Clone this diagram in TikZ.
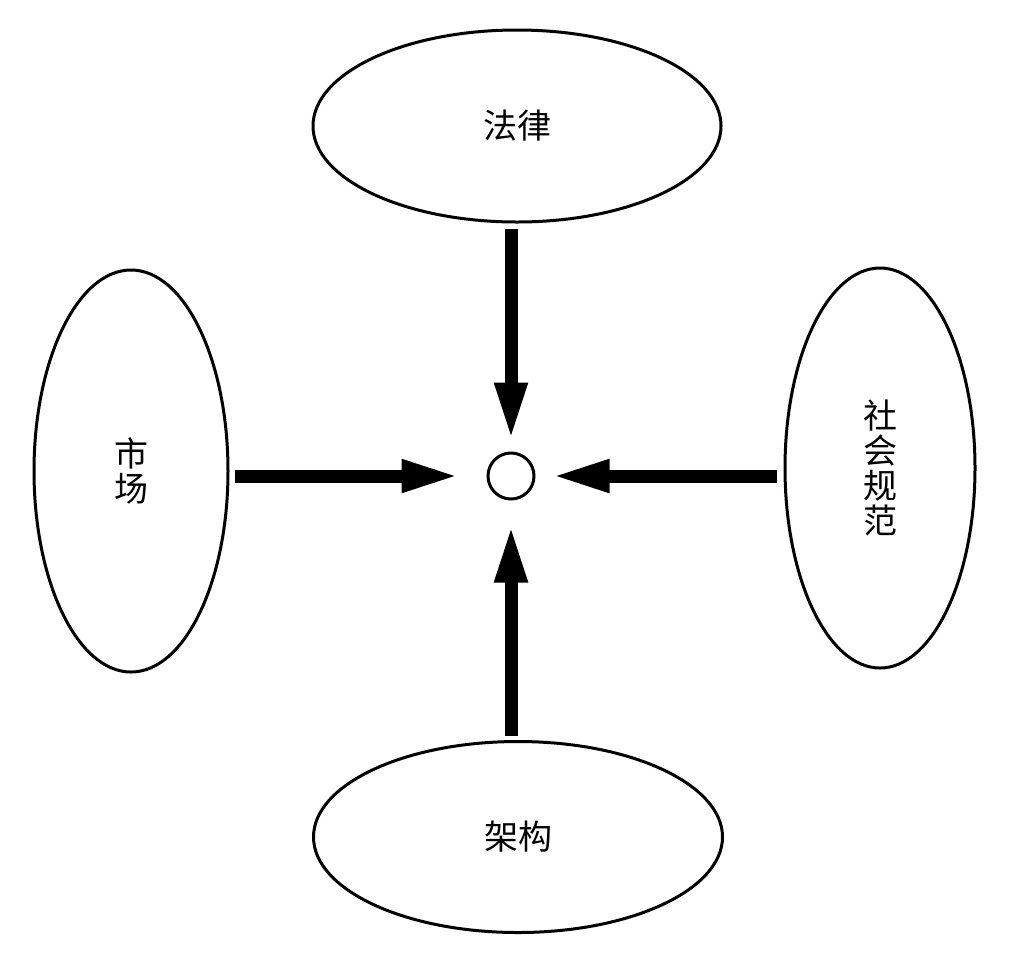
\documentclass[tikz,border=0pt]{standalone}
\usepackage{fontspec}
\newfontfamily\cjk{Noto Sans CJK SC}
\usetikzlibrary{shapes.geometric,arrows.meta}
\begin{document}
\begin{tikzpicture}[x=0.5pt,y=-0.5pt,
  oval/.style={draw,ellipse,line width=1.5pt,inner sep=0pt,align=center,
    font=\cjk\fontsize{17pt}{17.5pt}\selectfont},
  arr/.style={line width=6.5pt,-{Triangle[length=29pt,width=15pt]}}]
\useasboundingbox (0,0) rectangle (1032,960);
\node[oval,minimum width=204pt,minimum height=96pt] (law) at (517,126) {法律};
\node[oval,minimum width=204.5pt,minimum height=95.5pt] (arch) at (518,837) {架构};
\node[oval,minimum width=97pt,minimum height=201pt] (market) at (131,471) {市\\场};
\node[oval,minimum width=95pt,minimum height=200pt] (norms) at (880,468) {社\\会\\规\\范};
\node[draw,circle,line width=1.5pt,minimum size=23pt,inner sep=0pt] (c) at (511,476) {};
\draw[arr,shorten <=2.5pt,shorten >=5.5pt] (law.south -| c) -- (c.north);
\draw[arr,shorten <=2pt,shorten >=12pt] (arch.north -| c) -- (c.south);
\draw[arr,shorten <=2.5pt,shorten >=13.5pt] (market.east |- c) -- (c.west);
\draw[arr,shorten <=3.5pt,shorten >=8pt] (norms.west |- c) -- (c.east);
\end{tikzpicture}
\end{document}
